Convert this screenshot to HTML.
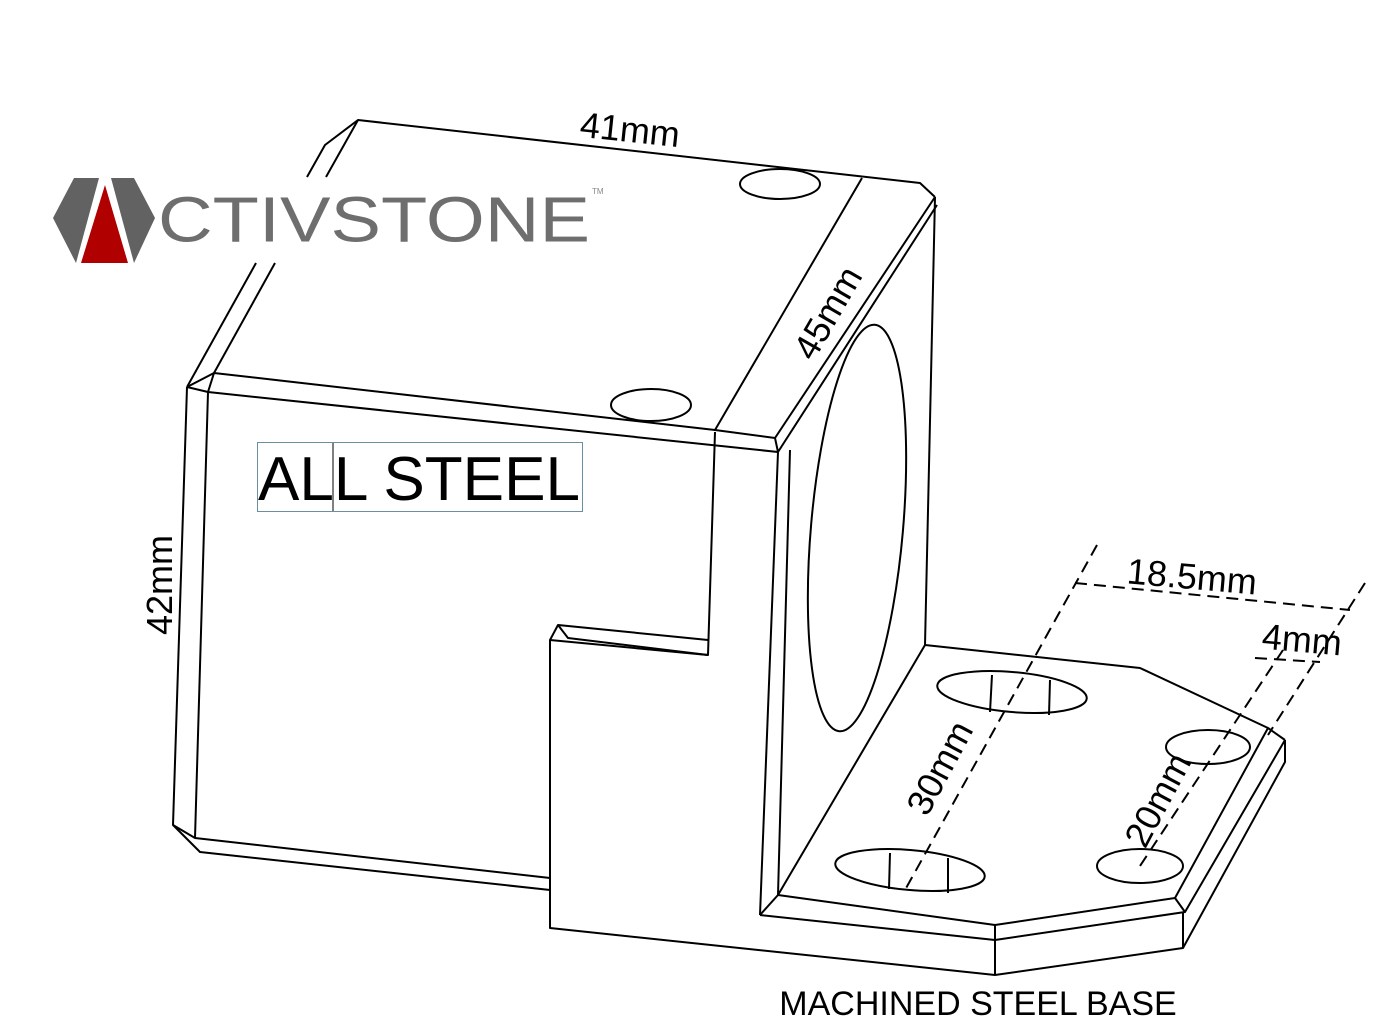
<!DOCTYPE html>
<html><head><meta charset="utf-8"><style>
html,body{margin:0;padding:0;background:#fff;}
svg{display:block}
text{font-family:"Liberation Sans",sans-serif;}
</style></head><body>
<svg width="1394" height="1034" viewBox="0 0 1394 1034" xmlns="http://www.w3.org/2000/svg">
<g fill="none" stroke="#000" stroke-width="2" stroke-linejoin="round">
<!-- top face -->
<polyline points="307,177 325,145 358,120 920,183 935,197"/>
<line x1="358" y1="120" x2="326" y2="177"/>
<line x1="256" y1="263" x2="187" y2="387"/>
<line x1="275" y1="263" x2="214" y2="373"/>
<polyline points="187,387 214,373 715,430 775,438 778,452 208,392 187,387"/>
<line x1="214" y1="373" x2="208" y2="392"/>
<line x1="715" y1="430" x2="862" y2="178"/>
<line x1="775" y1="438" x2="935" y2="197"/>
<line x1="778" y1="452" x2="937" y2="205"/>
<ellipse cx="780" cy="184" rx="40" ry="15"/>
<ellipse cx="651" cy="405" rx="40" ry="16"/>
<!-- front face -->
<polyline points="187,387 173,825 195,838 208,392"/>
<polyline points="173,825 200,852 550,890"/>
<line x1="195" y1="838" x2="550" y2="878"/>
<polyline points="715,432 708,655 568,638 558,625 708,640"/>
<polyline points="558,625 550,640 550,928 995,975 1183,948 1285,762 1285,740"/>
<line x1="550" y1="640" x2="708" y2="655"/>
<!-- upright side -->
<line x1="778" y1="452" x2="760" y2="915"/>
<line x1="790" y1="450" x2="778" y2="895"/>
<line x1="935" y1="197" x2="925" y2="645"/>
<ellipse cx="857" cy="528" rx="46" ry="204" transform="rotate(5 857 528)"/>
<!-- base -->
<polyline points="925,645 1140,668 1268,728 1285,740"/>
<line x1="778" y1="895" x2="925" y2="645"/>
<polyline points="778,895 995,925 1175,898 1268,728"/>
<polyline points="760,915 995,940 1185,912 1285,740"/>
<line x1="760" y1="915" x2="778" y2="895"/>
<line x1="995" y1="925" x2="995" y2="975"/>
<line x1="1183" y1="912" x2="1183" y2="948"/>
<line x1="1175" y1="898" x2="1185" y2="912"/>
<ellipse cx="1012" cy="692" rx="75" ry="20" transform="rotate(5 1012 692)"/>
<line x1="992" y1="675" x2="990" y2="712"/>
<line x1="1050" y1="680" x2="1049" y2="715"/>
<ellipse cx="910" cy="870" rx="75" ry="20" transform="rotate(5 910 870)"/>
<line x1="890" y1="853" x2="889" y2="889"/>
<line x1="948" y1="858" x2="948" y2="893"/>
<ellipse cx="1208" cy="747" rx="42" ry="17"/>
<ellipse cx="1140" cy="866" rx="43" ry="17"/>
</g>
<g fill="none" stroke="#000" stroke-width="2" stroke-dasharray="12,7">
<line x1="1097" y1="545" x2="905" y2="890"/>
<line x1="1075" y1="583" x2="1350" y2="610"/>
<line x1="1365" y1="583" x2="1268" y2="735"/>
<line x1="1255" y1="658" x2="1320" y2="662"/>
<line x1="1283" y1="650" x2="1140" y2="866"/>
</g>
<!-- labels -->
<g font-size="36" fill="#000">
<text x="630" y="142" text-anchor="middle" transform="rotate(6 630 130)">41mm</text>
<text x="828" y="325" text-anchor="middle" transform="rotate(-60 828 313)">45mm</text>
<text x="160" y="597" text-anchor="middle" transform="rotate(-90 160 585)">42mm</text>
<text x="1192" y="589" text-anchor="middle" transform="rotate(5 1192 577)">18.5mm</text>
<text x="1302" y="652" text-anchor="middle" transform="rotate(5 1302 640)">4mm</text>
<text x="940" y="780" text-anchor="middle" transform="rotate(-62 940 768)">30mm</text>
<text x="1158" y="812" text-anchor="middle" transform="rotate(-62 1158 800)">20mm</text>
<text x="978" y="1015" text-anchor="middle" font-size="34">MACHINED STEEL BASE</text>
</g>
<rect x="257.5" y="442.5" width="325" height="69" fill="none" stroke="#6a8fa0" stroke-width="1"/>
<line x1="333" y1="443" x2="333" y2="511" stroke="#000" stroke-width="1"/>
<text x="258" y="500" font-size="62" fill="#000" textLength="322" lengthAdjust="spacingAndGlyphs">ALL STEEL</text>
<!-- logo -->
<polygon points="53,218 74,178 99,178 76,263" fill="#626262"/>
<polygon points="81,263 105,185 128,263" fill="#b10000"/>
<polygon points="111,178 134,178 155,218 134,263" fill="#626262"/>
<text x="158" y="241" font-size="60" fill="#6e6e6e" textLength="432" lengthAdjust="spacingAndGlyphs" transform="translate(0,-14) scale(1,1.06)">CTIVSTONE</text>
<text x="592" y="194" font-size="8" fill="#888">TM</text>
</svg>
</body></html>
